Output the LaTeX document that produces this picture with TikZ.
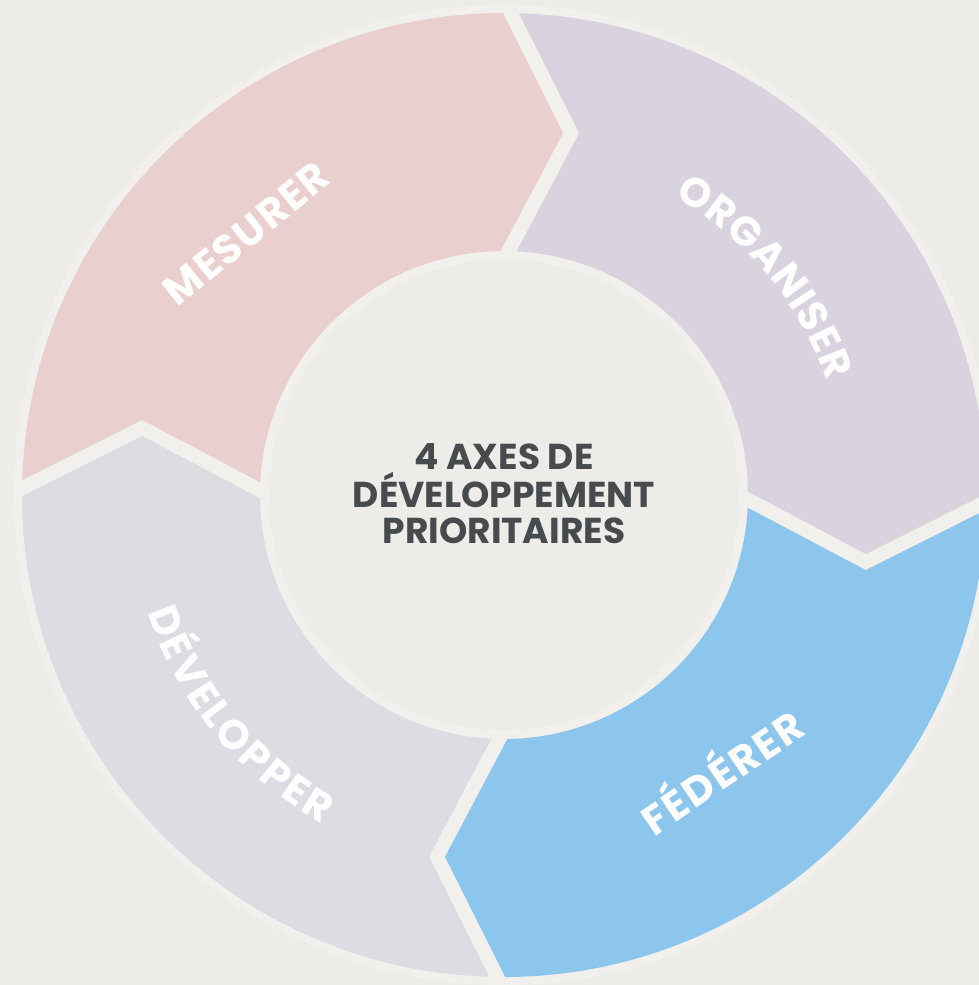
\documentclass[tikz,border=0pt]{standalone}
\usepackage{fontspec}
\setmainfont{Poppins}
\usetikzlibrary{decorations.text}
\definecolor{bg}{HTML}{EDECE9}
\definecolor{ringc}{HTML}{F1F0ED}
\definecolor{cpink}{HTML}{EACFCF}
\definecolor{cviolet}{HTML}{D8D3DF}
\definecolor{cblue}{HTML}{8DC6EC}
\definecolor{cgrey}{HTML}{DEDBE2}
\definecolor{ctext}{HTML}{474B4E}
\newcommand\labfont{\fontsize{41}{46}\selectfont\bfseries}
\newcommand\ctrfont{\fontsize{36}{40}\selectfont\bfseries}
\begin{document}
\begin{tikzpicture}[x=1pt,y=1pt,
  gapline/.style={draw=ringc, line width=14pt, line join=miter, miter limit=30},
  ctr/.style={anchor=base, text=ctext, font=\ctrfont, inner sep=0pt}
]
\fill[bg] (-504,-490) rectangle (475,495);
\useasboundingbox (-504,-490) rectangle (475,495);
\def\ra{244}\def\rb{482}\def\rt{368}
% light ring
\fill[ringc] (0,0) circle[radius=490];
% segments: tail angle, head angle
\foreach \ta/\hb/\col in {179.5/89.5/cpink, 89.5/-0.5/cviolet, -0.5/-90.5/cblue, 269.5/179.5/cgrey}{
  \fill[\col] (\ta:\rb) arc[start angle=\ta, end angle=\hb, radius=\rb]
    -- (\hb-10:\rt) -- (\hb:\ra) arc[start angle=\hb, end angle=\ta, radius=\ra]
    -- (\ta-10:\rt) -- cycle;
}
% gaps
\foreach \b in {89.5,-0.5,-90.5,179.5}{
  \draw[gapline] (\b:\rb+5) -- (\b-10:\rt) -- (\b:\ra-5);
}
% inner disk
\fill[bg] (0,0) circle[radius=235];
% centre text
\node[ctr] (c1) at (0,25) {4 AXES DE};
\node[ctr] (c2) at (0,-12) {DÉVELOPPEMENT};
\node[ctr] (c3) at (0,-48) {PRIORITAIRES};
% labels
\path[decorate, decoration={text effects along path, text={MESURER},
  text effects/.cd, text along path, fit text to path,
  characters={text=white, font=\labfont, inner sep=0pt}}] (-326.7,187.1) -- (-171.3,312.9);
\path[decorate, decoration={text effects along path, text={ORGANISER},
  text effects/.cd, text along path, fit text to path,
  characters={text=white, font=\labfont, inner sep=0pt}}] (60.3:343) arc[start angle=60.3, end angle=19.4, radius=343];
\path[decorate, decoration={text effects along path, text={FÉDÉRER},
  text effects/.cd, text along path, fit text to path,
  characters={text=white, font=\labfont, inner sep=0pt}}] (150.3,-342.1) -- (303.7,-238.7);
\path[decorate, decoration={text effects along path, text={DÉVELOPPER},
  text effects/.cd, text along path, fit text to path,
  characters={text=white, font=\labfont, inner sep=0pt}}] (198.2:375.5) arc[start angle=198.2, end angle=241.1, radius=375.5];
\end{tikzpicture}
\end{document}
